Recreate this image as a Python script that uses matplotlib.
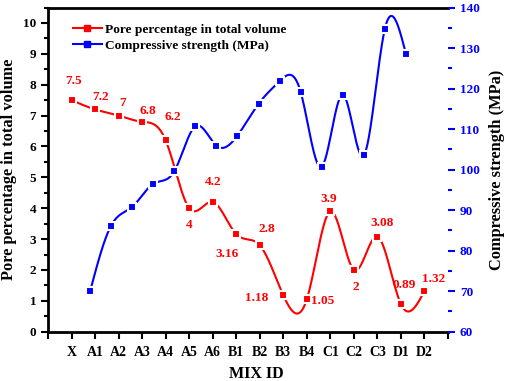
import numpy as np
import matplotlib
matplotlib.use("Agg")
import matplotlib.pyplot as plt
from matplotlib.ticker import MultipleLocator

# data
mix_ids = ["X", "A1", "A2", "A3", "A4", "A5", "A6", "B1", "B2",
           "B3", "B4", "C1", "C2", "C3", "D1", "D2"]
pore = [7.5, 7.2, 7.0, 6.8, 6.2, 4.0, 4.2, 3.16, 2.8,
        1.18, 1.05, 3.9, 2.0, 3.08, 0.89, 1.32]
pore_labels = ["7.5", "7.2", "7", "6.8", "6.2", "4", "4.2", "3.16", "2.8",
               "1.18", "1.05", "3.9", "2", "3.08", "0.89", "1.32"]
strength = [70.0, 86.2, 90.8, 96.5, 99.6, 110.7, 105.9, 108.4, 116.2,
            121.8, 119.2, 100.7, 118.5, 103.5, 134.7, 128.6]

# label offsets in pixels (dx, dy)
label_off = [(2, 19), (6, 12), (4, 13), (6, 11), (7, 23), (0, -17), (0, 20),
             (-9, -20), (7, 16), (-27, -3), (16, -2), (-2, 12), (2, -17),
             (5, 14), (3, 19), (9, 12)]


def natural_spline(x, y, n=30):
    # natural cubic spline, only used to draw a smooth line through the points
    x = np.asarray(x, float)
    y = np.asarray(y, float)
    k = len(x)
    h = np.diff(x)
    A = np.zeros((k, k))
    b = np.zeros(k)
    A[0, 0] = A[-1, -1] = 1
    for i in range(1, k - 1):
        A[i, i - 1] = h[i - 1]
        A[i, i] = 2 * (h[i - 1] + h[i])
        A[i, i + 1] = h[i]
        b[i] = 6 * ((y[i + 1] - y[i]) / h[i] - (y[i] - y[i - 1]) / h[i - 1])
    M = np.linalg.solve(A, b)
    xs, ys = [], []
    for i in range(k - 1):
        t = np.linspace(x[i], x[i + 1], n)
        a = (x[i + 1] - t) / h[i]
        c = (t - x[i]) / h[i]
        s = (a * y[i] + c * y[i + 1]
             + ((a ** 3 - a) * M[i] + (c ** 3 - c) * M[i + 1]) * h[i] ** 2 / 6)
        xs.append(t)
        ys.append(s)
    return np.concatenate(xs), np.concatenate(ys)


plt.rcParams["font.family"] = "Liberation Serif"
plt.rcParams["font.weight"] = "bold"

fig = plt.figure(figsize=(5.05, 3.81), dpi=100)
rect = [48 / 505, 1 - 331.7 / 381, 400 / 505, 324.2 / 381]
ax = fig.add_axes(rect)
ax2 = fig.add_axes(rect, frameon=False)

red = "#ff0000"
blue = "#0000ff"

xr = np.arange(len(pore))
sx, sy = natural_spline(xr, pore)
ax.plot(sx, sy, color=red, lw=1.5, zorder=2)
ax.plot(xr, pore, ls="none", marker="s", ms=5.5, mfc=red, mec="white",
        mew=1.5, zorder=3)
for i, (v, lab) in enumerate(zip(pore, pore_labels)):
    ax.annotate(lab, (xr[i], v), xytext=label_off[i], textcoords="offset pixels",
                ha="center", va="center", color=red, fontsize=9.5,
                fontweight="bold")

xb = np.arange(len(strength))
bx, by = natural_spline(xb, strength)
ax2.plot(bx, by, color=blue, lw=1.5, zorder=2)
ax2.plot(xb, strength, ls="none", marker="s", ms=5.5, mfc=blue, mec="white",
         mew=1.5, zorder=3)

ax.set_xlim(-1, 16)
ax.set_ylim(0, 10.5)
ax2.set_xlim(-2, 17)
ax2.set_ylim(60, 140)

ax.set_xticks(np.arange(-1, 17))
ax.set_xticklabels([""] + mix_ids + [""])
ax.yaxis.set_major_locator(MultipleLocator(1))
ax.yaxis.set_minor_locator(MultipleLocator(0.5))
ax.tick_params(axis="both", which="major", direction="out", length=5,
               width=1.5, labelsize=9.5)
ax.tick_params(axis="x", labelsize=10, pad=5)
ax.tick_params(axis="y", which="minor", direction="out", length=3, width=1.5)
ax.tick_params(axis="y", right=False)
for s in ["left", "bottom", "top"]:
    ax.spines[s].set_linewidth(2)
ax.spines["right"].set_visible(False)

ax2.xaxis.set_visible(False)
ax2.yaxis.tick_right()
ax2.yaxis.set_label_position("right")
ax2.yaxis.set_major_locator(MultipleLocator(10))
ax2.yaxis.set_minor_locator(MultipleLocator(5))
ax2.tick_params(axis="y", which="major", direction="out", length=5, width=1.5,
                colors=blue, labelsize=9.5)
ax2.tick_params(axis="y", which="minor", direction="out", length=3, width=1.5,
                colors=blue)
ax2.spines["right"].set_visible(True)
ax2.spines["right"].set_color(blue)
ax2.spines["right"].set_linewidth(2)

ax.set_xlabel("MIX ID", fontsize=11.5, fontweight="bold", va="center")
ax.xaxis.set_label_coords(0.52, -0.13)
ax.set_ylabel("Pore percentage in total volume", fontsize=11.8,
              fontweight="bold", va="center")
ax.yaxis.set_label_coords(-0.0975, 0.5)
ax2.set_ylabel("Compressive strength (MPa)", fontsize=11.8, fontweight="bold",
               va="center")
ax2.yaxis.set_label_coords(1.122, 0.5)

h1, = ax.plot([], [], color=red, lw=1.5, marker="s", ms=5, mec=red)
h2, = ax.plot([], [], color=blue, lw=1.5, marker="s", ms=5, mec=blue)
fig.legend([h1, h2], ["Pore percentage in total volume",
                      "Compressive strength (MPa)"],
           loc="upper left", bbox_to_anchor=(66 / 505, 1 - 17 / 381),
           frameon=False, handlelength=2.2, handletextpad=0.2,
           labelspacing=0.25, borderpad=0, prop={"weight": "bold", "size": 9.6})

fig.savefig("out.png", dpi=100)
